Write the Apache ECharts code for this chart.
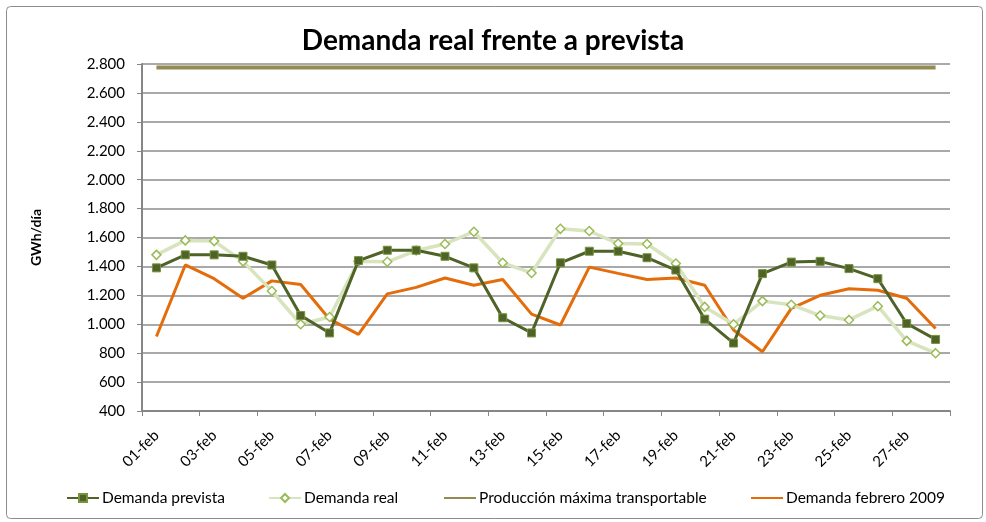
<!DOCTYPE html>
<html>
<head>
<meta charset="utf-8">
<script src="https://cdn.jsdelivr.net/npm/echarts@6/dist/echarts.min.js"></script>
<style>
html,body{margin:0;padding:0;background:#fff;}
#chart{width:986px;height:522px;}
</style>
</head>
<body>
<div id="chart"></div>
<script>
const categories = ['01-feb','02-feb','03-feb','04-feb','05-feb','06-feb','07-feb','08-feb','09-feb','10-feb','11-feb','12-feb','13-feb','14-feb','15-feb','16-feb','17-feb','18-feb','19-feb','20-feb','21-feb','22-feb','23-feb','24-feb','25-feb','26-feb','27-feb','28-feb'];
const demandaPrevista = [1390,1480,1480,1470,1410,1060,940,1440,1512,1512,1470,1390,1045,940,1425,1505,1505,1460,1375,1035,870,1350,1430,1435,1385,1315,1005,895];
const demandaReal = [1480,1580,1575,1435,1230,1000,1050,1435,1432,1510,1555,1640,1425,1355,1660,1645,1558,1555,1420,1120,1000,1160,1135,1060,1030,1125,885,800];
const produccionMaxima = [2775,2775,2775,2775,2775,2775,2775,2775,2775,2775,2775,2775,2775,2775,2775,2775,2775,2775,2775,2775,2775,2775,2775,2775,2775,2775,2775,2775];
const demandaFebrero2009 = [915,1410,1315,1180,1300,1275,1035,930,1210,1255,1320,1270,1310,1070,995,1395,1352,1310,1320,1270,960,810,1110,1200,1245,1235,1180,970];
const seriesNames = ['Demanda prevista','Demanda real','Producción máxima transportable','Demanda febrero 2009'];

const FONT = 'Lato, "Liberation Sans", sans-serif';
const chart = echarts.init(document.getElementById('chart'), null, {renderer:'canvas'});
const fmt = v => String(v).replace(/\B(?=(\d{3})+(?!\d))/g, '.');

const legendLefts = [66, 268, 443, 750];
const legends = seriesNames.map((n, i) => ({
  top: 490, left: legendLefts[i], itemWidth: 32, itemHeight: 10, itemGap: 0, padding: 0,
  textStyle: {fontFamily: FONT, fontSize: 15.5, color: '#000', padding: [0, 0, 0, -2]},
  data: [i >= 2 ? {name: n, itemStyle: {opacity: 0}} : {name: n}]
}));

chart.setOption({
  animation:false,
  backgroundColor:'#fff',
  textStyle:{fontFamily:FONT},
  title:{
    text:'Demanda real frente a prevista',
    left:'center', top:22,
    textStyle:{fontFamily:FONT, fontWeight:'bold', fontSize:28, color:'#000'}
  },
  graphic:[{
    type:'rect', left:4, top:4, shape:{width:976, height:512, r:4},
    style:{fill:'none', stroke:'#8c8c8c', lineWidth:1}, silent:true, z:-1
  }],
  grid:{left:142, right:36, top:64, bottom:111},
  legend: legends,
  xAxis:{
    type:'category', data:categories, boundaryGap:true,
    axisLine:{lineStyle:{color:'#868686', width:2}},
    axisTick:{show:true, interval:1, length:5, lineStyle:{color:'#868686'}},
    axisLabel:{interval:1, rotate:45, fontFamily:FONT, fontSize:15, color:'#000', margin:22}
  },
  yAxis:{
    type:'value', min:400, max:2800, interval:200,
    name:'GWh/día', nameLocation:'middle', nameGap:99, nameRotate:90,
    nameTextStyle:{fontFamily:FONT, fontWeight:'bold', fontSize:14, color:'#000'},
    axisLine:{show:true, lineStyle:{color:'#868686', width:2}},
    axisTick:{show:true, length:5, lineStyle:{color:'#868686'}},
    axisLabel:{formatter:fmt, fontFamily:FONT, fontSize:15, color:'#000', margin:17},
    splitLine:{lineStyle:{color:'#8c8c8c', width:1.5}}
  },
  series:[
    {
      name:seriesNames[0], type:'line', data:demandaPrevista,
      symbol:'rect', symbolSize:8, z:4,
      lineStyle:{color:'#4F6228', width:3},
      itemStyle:{color:'#4F6228', borderColor:'#77933C', borderWidth:1}
    },
    {
      name:seriesNames[1], type:'line', data:demandaReal,
      symbol:'diamond', symbolSize:9, z:3,
      lineStyle:{color:'#D7E4BD', width:3.5},
      itemStyle:{color:'#ffffff', borderColor:'#9BBB59', borderWidth:1.5}
    },
    {
      name:seriesNames[2], type:'line', data:produccionMaxima,
      symbol:'none', z:2,
      lineStyle:{color:'#948A54', width:4},
      itemStyle:{color:'#948A54'}
    },
    {
      name:seriesNames[3], type:'line', data:demandaFebrero2009,
      symbol:'none', z:2,
      lineStyle:{color:'#E46C0A', width:3},
      itemStyle:{color:'#E46C0A'}
    }
  ]
});
</script>
</body>
</html>
